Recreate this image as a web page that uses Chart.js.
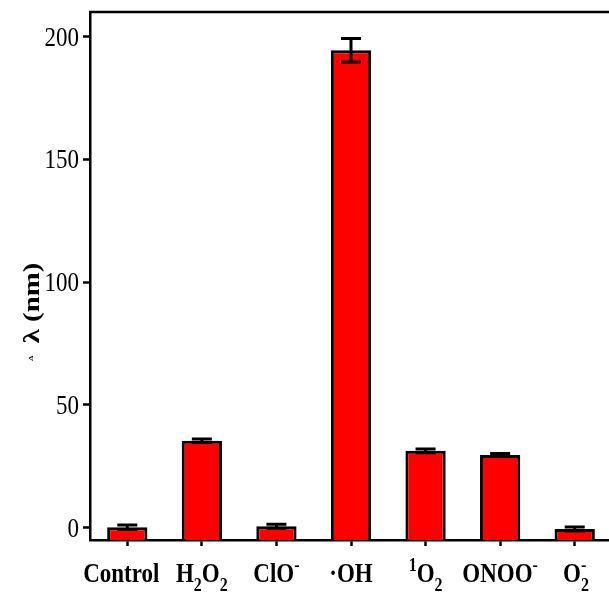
<!DOCTYPE html>
<html>
<head>
<meta charset="utf-8">
<script src="https://cdn.jsdelivr.net/npm/chart.js@4"></script>
<style>
  html, body { margin: 0; padding: 0; overflow: hidden; background: #fff; }
  canvas { display: block; }
</style>
</head>
<body>
<canvas id="shiftChart" width="612" height="594"></canvas>
<script>
const categories = ['Control', 'H2O2', 'ClO-', '·OH', '1O2', 'ONOO-', 'O2-'];
const shiftValues = [0.2, 35.4, 0.6, 194.4, 31.3, 29.6, -0.5];
const shiftErrors = [0.9, 0.7, 0.8, 4.8, 0.8, 0.6, 0.8];
const yTickValues = [0, 50, 100, 150, 200];

// rich text pieces for the category labels (n = normal, sub, sup)
const labelParts = [
    [['Control', 'n']],
    [['H', 'n'], ['2', 'sub'], ['O', 'n'], ['2', 'sub']],
    [['ClO', 'n'], ['-', 'sup']],
    [['\u00B7OH', 'n']],
    [['1', 'sup'], ['O', 'n'], ['2', 'sub']],
    [['ONOO', 'n'], ['-', 'sup']],
    [['O', 'n'], ['2', 'sub', true], ['-', 'sup']]
];

const SERIF = '"Liberation Serif", "Times New Roman", serif';
const STRETCH = 1.22;

function stretchedText(ctx, str, x, y) {
    ctx.save();
    ctx.translate(x, y);
    ctx.scale(1, STRETCH);
    ctx.fillText(str, 0, 0);
    ctx.restore();
}

const errorBars = {
    id: 'errorBars',
    afterDatasetsDraw(chart) {
        const ctx = chart.ctx;
        const y = chart.scales.y;
        const meta = chart.getDatasetMeta(0);
        ctx.save();
        ctx.strokeStyle = '#000';
        ctx.lineWidth = 3;
        meta.data.forEach((bar, i) => {
            const top = y.getPixelForValue(shiftValues[i] + shiftErrors[i]);
            const bot = y.getPixelForValue(shiftValues[i] - shiftErrors[i]);
            ctx.beginPath();
            ctx.moveTo(bar.x, top); ctx.lineTo(bar.x, bot);
            ctx.moveTo(bar.x - 10, top); ctx.lineTo(bar.x + 10, top);
            ctx.moveTo(bar.x - 10, bot); ctx.lineTo(bar.x + 10, bot);
            ctx.stroke();
        });
        ctx.restore();
    }
};

const textLayer = {
    id: 'textLayer',
    afterDraw(chart) {
        const ctx = chart.ctx;
        const area = chart.chartArea;
        const x = chart.scales.x;
        const y = chart.scales.y;
        ctx.save();

        // top frame line
        ctx.strokeStyle = '#000';
        ctx.lineWidth = 2.5;
        ctx.beginPath();
        ctx.moveTo(area.left - 1, area.top);
        ctx.lineTo(area.right + 2, area.top);
        ctx.stroke();

        ctx.fillStyle = '#000';

        // y tick labels
        ctx.font = '23px ' + SERIF;
        ctx.textAlign = 'right';
        ctx.textBaseline = 'alphabetic';
        yTickValues.forEach(v => {
            stretchedText(ctx, String(v), 79, y.getPixelForValue(v) + 9);
        });

        // category labels
        const mainFont = 'bold 23px ' + SERIF;
        const smallFont = 'bold 16px ' + SERIF;
        ctx.textAlign = 'left';
        labelParts.forEach((parts, i) => {
            let width = 0;
            parts.forEach(p => {
                ctx.font = p[1] === 'n' ? mainFont : smallFont;
                if (!p[2]) width += ctx.measureText(p[0]).width;
            });
            let cx = x.getPixelForValue(i) - width / 2;
            if (i === 0) cx -= 6;
            parts.forEach(p => {
                ctx.font = p[1] === 'n' ? mainFont : smallFont;
                let by = 582;
                if (p[1] === 'sub') by = 591;
                if (p[1] === 'sup') by = 571;
                stretchedText(ctx, p[0], cx, by);
                if (!p[2]) cx += ctx.measureText(p[0]).width;
            });
        });

        // axis title, rotated
        ctx.save();
        ctx.translate(39, 303);
        ctx.rotate(-Math.PI / 2);
        ctx.scale(1.2, 1);
        ctx.font = 'bold 24px ' + SERIF;
        ctx.textAlign = 'center';
        ctx.fillText('\u03BB (nm)', 0, 0);
        ctx.font = 'bold 7px ' + SERIF;
        ctx.fillText('\u0394', -46, -6);
        ctx.restore();

        ctx.restore();
    }
};

new Chart(document.getElementById('shiftChart').getContext('2d'), {
    type: 'bar',
    data: {
        labels: categories,
        datasets: [{
            data: shiftValues,
            base: -5,
            backgroundColor: '#ff0000',
            borderColor: '#000000',
            borderWidth: 3,
            borderSkipped: 'bottom',
            categoryPercentage: 1,
            barPercentage: 0.54
        }]
    },
    options: {
        responsive: false,
        animation: false,
        devicePixelRatio: 1,
        layout: { padding: { top: 12, left: 0, right: 0, bottom: 0 } },
        plugins: { legend: { display: false }, tooltip: { enabled: false } },
        scales: {
            x: {
                grid: { display: true, drawOnChartArea: false, offset: false, drawTicks: true,
                        tickLength: 6, tickWidth: 2.5, tickColor: '#000' },
                border: { color: '#000', width: 2.5 },
                ticks: { color: 'rgba(0,0,0,0)', autoSkip: false, maxRotation: 0 },
                afterFit(scale) { scale.height = 54; }
            },
            y: {
                min: -5,
                max: 210,
                grid: { drawOnChartArea: false, drawTicks: true, tickLength: 7, tickWidth: 2.5, tickColor: '#000' },
                border: { color: '#000', width: 2.5 },
                ticks: { stepSize: 50, color: 'rgba(0,0,0,0)' },
                afterBuildTicks(scale) {
                    scale.ticks = yTickValues.map(v => ({ value: v }));
                },
                afterFit(scale) { scale.width = 90; }
            }
        }
    },
    plugins: [errorBars, textLayer]
});
</script>
</body>
</html>
